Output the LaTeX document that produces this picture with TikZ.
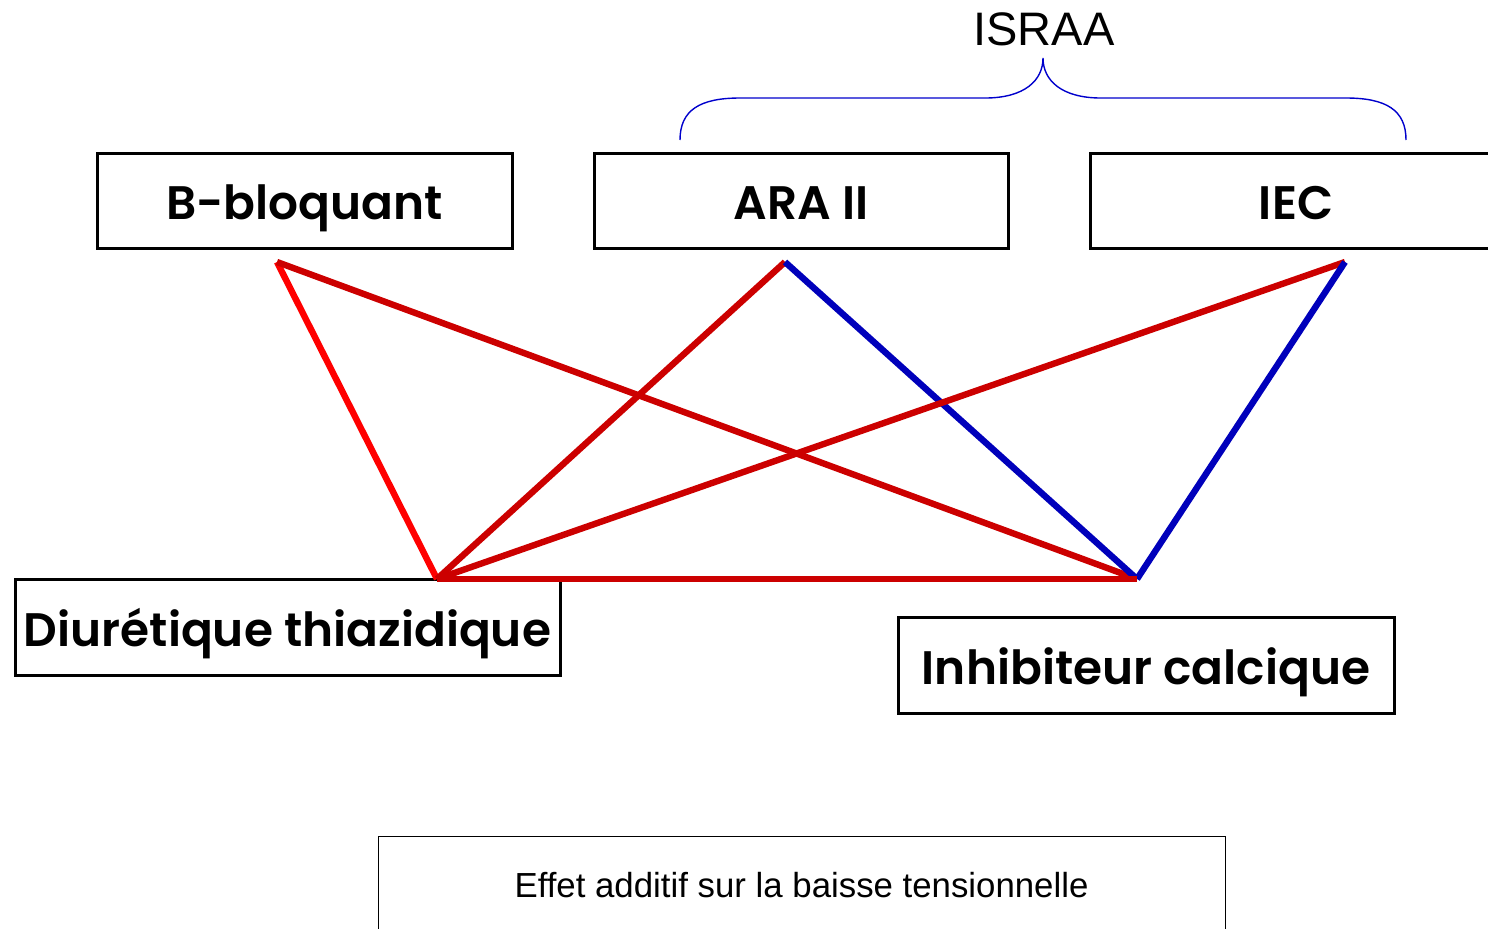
\documentclass[tikz,border=0pt]{standalone}
\usepackage{fontspec}
\setmainfont{Liberation Sans}
\newfontfamily\comicfont{Poppins}[UprightFont=* SemiBold]
\definecolor{lred}{HTML}{FF0000}
\definecolor{dred}{HTML}{CC0000}
\definecolor{lblue}{HTML}{0000BB}
\definecolor{bblue}{HTML}{0000CC}
\begin{document}
\begin{tikzpicture}[x=0.5pt,y=-0.5pt,
  drug/.style={draw=black,line width=1.5pt,inner sep=0pt,text height=20pt,text depth=1pt,font=\comicfont\fontsize{23.5}{26}\selectfont},
  link/.style={line width=3.2pt,line cap=butt},
  notebox/.style={draw=black,line width=0.5pt,inner sep=0pt,font=\fontsize{17.4}{20}\selectfont}]
\useasboundingbox (0,0) rectangle (1488,928);
\node[drug,minimum width=207.5pt,minimum height=47.5pt] (bb) at (304.5,200.5) {B-bloquant};
\node[drug,minimum width=207pt,minimum height=47.5pt] (ara) at (801,200.5) {ARA II};
\node[drug,minimum width=206pt,minimum height=47.5pt] (iec) at (1296,200.5) {IEC};
\node[drug,minimum width=272.5pt,minimum height=48pt] (diu) at (287.5,627) {Diurétique thiazidique};
\node[drug,minimum width=248pt,minimum height=48pt] (inh) at (1146,665) {Inhibiteur calcique};
\node[notebox,minimum width=423.5pt,minimum height=49pt] (eff) at (801.5,885) {Effet additif sur la baisse tensionnelle};
\coordinate (pb) at (277,262);
\coordinate (pa) at (785,262);
\coordinate (pi) at (1345,262);
\coordinate (pd) at (437,579);
\coordinate (pc) at (1137,579);
\draw[link,lred] (pb) -- (pd);
\draw[link,dred] (pb) -- (pc);
\draw[link,dred] (pa) -- (pd);
\draw[link,lblue] (pa) -- (pc);
\draw[link,dred] (pi) -- (pd);
\draw[link,lblue] (pi) -- (pc);
\draw[link,dred] (pd) -- (pc);
\coordinate (tip) at (1043,58);
\draw[bblue,line width=0.7pt] (680,140) .. controls (680,110) and (700,98) .. (740,98) -- (985,98) .. controls (1025,98) and (1043,80) .. (tip) .. controls (1043,80) and (1061,98) .. (1101,98) -- (1346,98) .. controls (1386,98) and (1406,110) .. (1406,140);
\node[font=\fontsize{23.5}{26}\selectfont,anchor=south,inner sep=0pt] (israa) at (1044,46) {ISRAA};
\end{tikzpicture}
\end{document}
